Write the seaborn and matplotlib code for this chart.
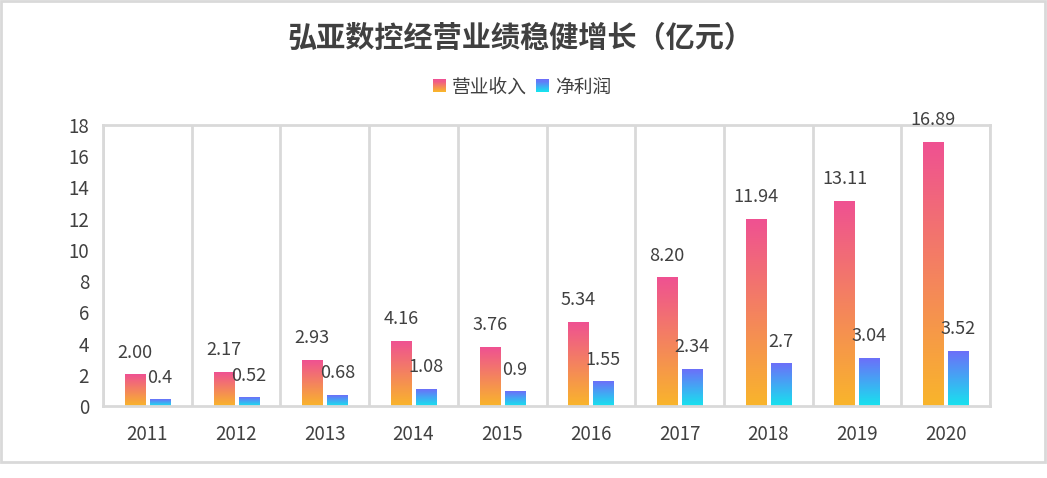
import numpy as np
import pandas as pd
import seaborn as sns
import matplotlib.pyplot as plt
import matplotlib.colors as mcolors
from matplotlib.patches import Rectangle
from matplotlib.legend_handler import HandlerBase

years = ['2011', '2012', '2013', '2014', '2015', '2016', '2017', '2018', '2019', '2020']
revenue = [2.00, 2.17, 2.93, 4.16, 3.76, 5.34, 8.20, 11.94, 13.11, 16.89]
profit = [0.4, 0.52, 0.68, 1.08, 0.9, 1.55, 2.34, 2.7, 3.04, 3.52]
revenue_labels = ['2.00', '2.17', '2.93', '4.16', '3.76', '5.34', '8.20', '11.94', '13.11', '16.89']
profit_labels = ['0.4', '0.52', '0.68', '1.08', '0.9', '1.55', '2.34', '2.7', '3.04', '3.52']
series = ['营业收入', '净利润']

# gradient (top colour, bottom colour)
grads = {'营业收入': ('#EF5192', '#F9B52B'), '净利润': ('#6C6FF9', '#17E3EE')}

df = pd.DataFrame({
    'year': years * 2,
    'value': revenue + profit,
    'series': [series[0]] * len(years) + [series[1]] * len(years),
})

sns.set_style('white')
plt.rcParams['font.family'] = ['Noto Sans CJK SC', 'DejaVu Sans']

fig = plt.figure(figsize=(10.47, 4.78), dpi=100)
ax = fig.add_axes([0.0984, 0.1506, 0.8472, 0.5879])

sns.barplot(data=df, x='year', y='value', hue='series', hue_order=series,
            width=0.564, gap=0.2, palette=['#EF5192', '#6C6FF9'], ax=ax,
            legend=False, errorbar=None)


def grad_img(top, bottom, n=256):
    c0 = np.array(mcolors.to_rgb(top))
    c1 = np.array(mcolors.to_rgb(bottom))
    t = np.linspace(0, 1, n)[:, None]
    return (c0 + (c1 - c0) * t)[:, None, :]


# replace solid bars with vertical gradients (row 0 = top colour)
for cont, name in zip(ax.containers, series):
    img = grad_img(*grads[name])
    for p in cont.patches:
        x0, y0 = p.get_x(), p.get_y()
        w, h = p.get_width(), p.get_height()
        p.set_visible(False)
        ax.imshow(img, extent=[x0, x0 + w, y0, y0 + h], aspect='auto',
                  origin='upper', zorder=2, interpolation='bilinear')

# data labels
for cont, labels in zip(ax.containers, [revenue_labels, profit_labels]):
    for p, lab in zip(cont.patches, labels):
        ax.annotate(lab, (p.get_x() + p.get_width() / 2, p.get_height()),
                    xytext=(0, 16), textcoords='offset points',
                    ha='center', va='center', fontsize=13, color='#404040')

ax.set_xlim(-0.5, 9.5)
ax.set_ylim(0, 18)
ax.set_yticks(range(0, 19, 2))
ax.set_xlabel('')
ax.set_ylabel('')
ax.set_xticks(np.arange(-0.5, 10, 1), minor=True)
ax.grid(which='minor', axis='x', color='#D9D9D9', linewidth=2)
ax.tick_params(axis='both', which='both', length=0, labelsize=13.5, labelcolor='#404040')
ax.tick_params(axis='x', pad=13)
ax.tick_params(axis='y', pad=10)
for s in ax.spines.values():
    s.set_color('#D9D9D9')
    s.set_linewidth(2)


class GradHandler(HandlerBase):
    def __init__(self, top, bottom):
        super().__init__()
        self.top, self.bottom = top, bottom

    def create_artists(self, legend, orig_handle, xdescent, ydescent,
                       width, height, fontsize, trans):
        n = 12
        c0 = np.array(mcolors.to_rgb(self.top))
        c1 = np.array(mcolors.to_rgb(self.bottom))
        side = height
        x = -xdescent + (width - side)
        arts = []
        for i in range(n):
            c = c0 + (c1 - c0) * (i / (n - 1))
            r = Rectangle((x, -ydescent + side * (n - 1 - i) / n), side, side / n,
                          facecolor=c, edgecolor='none', transform=trans)
            arts.append(r)
        return arts


h1 = Rectangle((0, 0), 1, 1)
h2 = Rectangle((0, 0), 1, 1)
fig.legend([h1, h2], series, loc='center', bbox_to_anchor=(0.497, 0.818),
           ncol=2, frameon=False, fontsize=13.5, handlelength=0.9, handletextpad=0.3,
           columnspacing=0.3, labelcolor='#404040',
           handler_map={h1: GradHandler(*grads['营业收入']), h2: GradHandler(*grads['净利润'])})

fig.text(0.497, 0.92, '弘亚数控经营业绩稳健增长（亿元）', ha='center', va='center',
         fontsize=21, fontweight='bold', color='#404040')

fig.patches.append(Rectangle((0.001, 0.034), 0.997, 0.964, transform=fig.transFigure,
                             fill=False, edgecolor='#D9D9D9', linewidth=2))

fig.savefig('out.png', dpi=100)
